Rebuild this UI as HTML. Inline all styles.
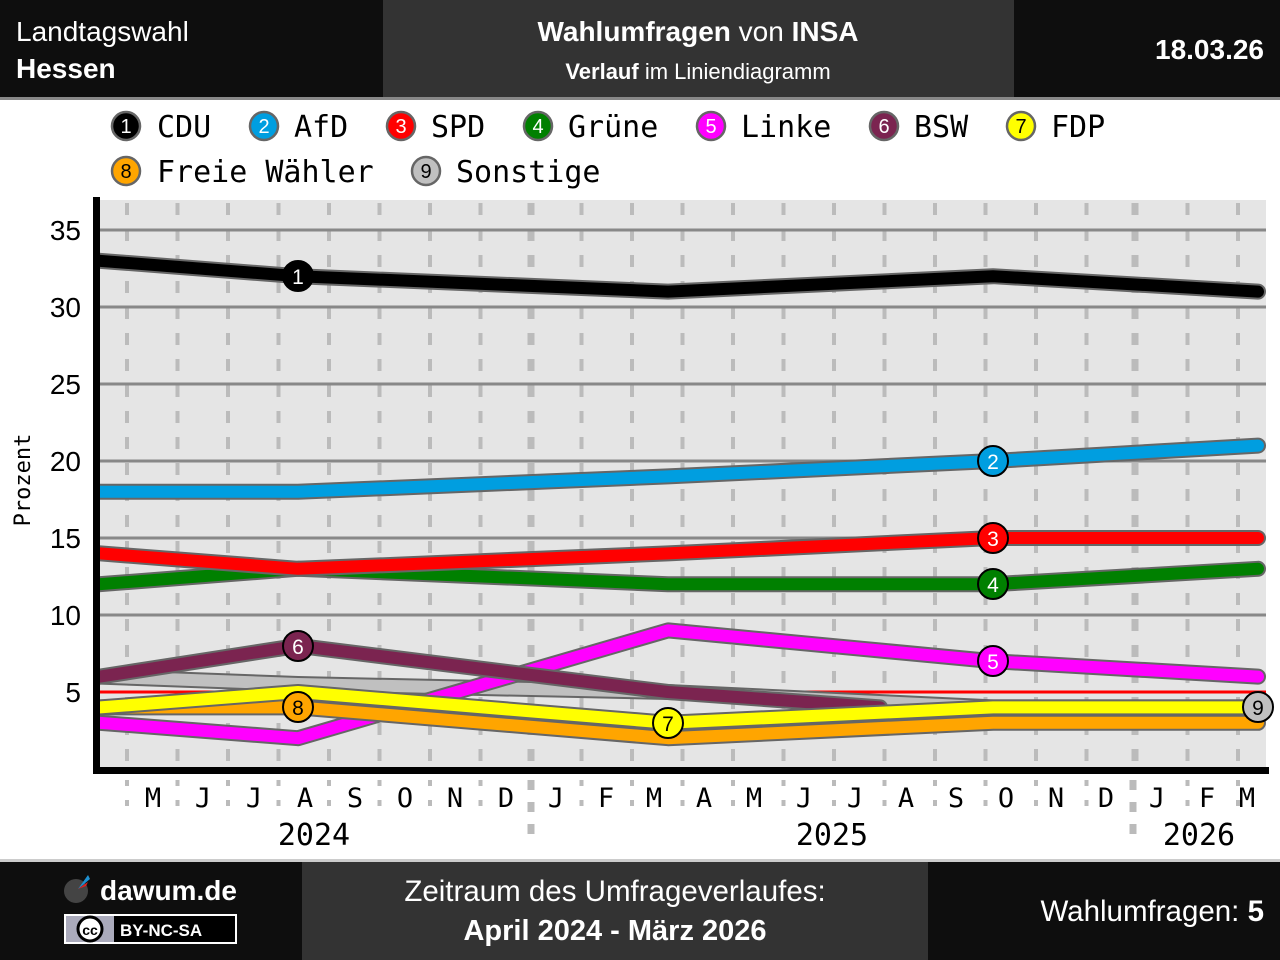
<!DOCTYPE html>
<html><head><meta charset="utf-8"><style>
html,body{margin:0;padding:0;background:#fff}
svg{display:block}
.r{font-family:"Liberation Sans",sans-serif}
.m{font-family:"DejaVu Sans Mono","Liberation Mono",monospace}
</style></head><body>
<svg width="1280" height="960" xmlns="http://www.w3.org/2000/svg">
<defs><clipPath id="c"><rect x="100" y="200" width="1166" height="567"/></clipPath></defs>
<rect x="0" y="0" width="1280" height="97" fill="#0e0e0e"/>
<rect x="383" y="0" width="631" height="97" fill="#333"/>
<rect x="0" y="97" width="1280" height="3" fill="#888"/>
<text class="r" x="16" y="41" font-size="28" fill="#fff">Landtagswahl</text>
<text class="r" x="16" y="78" font-size="28" font-weight="bold" fill="#fff">Hessen</text>
<text class="r" x="698" y="41" font-size="28" fill="#fff" text-anchor="middle"><tspan font-weight="bold">Wahlumfragen</tspan> von <tspan font-weight="bold">INSA</tspan></text>
<text class="r" x="698" y="79" font-size="22" fill="#fff" text-anchor="middle"><tspan font-weight="bold">Verlauf</tspan> im Liniendiagramm</text>
<text class="r" x="1264" y="59" font-size="28" font-weight="bold" fill="#fff" text-anchor="end">18.03.26</text>
<g class="m" font-size="30" fill="#000">
<g stroke="#666" stroke-width="2.5">
<circle cx="126" cy="126" r="14" fill="#000"/><circle cx="264" cy="126" r="14" fill="#009ee0"/><circle cx="401" cy="126" r="14" fill="#f00"/><circle cx="538" cy="126" r="14" fill="#008000"/><circle cx="711" cy="126" r="14" fill="#f0f"/><circle cx="884" cy="126" r="14" fill="#7b2450"/><circle cx="1021" cy="126" r="14" fill="#ff0"/><circle cx="126" cy="171" r="14" fill="#ffa500"/><circle cx="426" cy="171" r="14" fill="#c0c0c0"/>
</g>
<g font-size="20" text-anchor="middle" font-family="Liberation Sans,sans-serif">
<text x="126" y="133" fill="#fff">1</text><text x="264" y="133" fill="#fff">2</text><text x="401" y="133" fill="#fff">3</text><text x="538" y="133" fill="#fff">4</text><text x="711" y="133" fill="#fff">5</text><text x="884" y="133" fill="#fff">6</text><text x="1021" y="133">7</text><text x="126" y="178">8</text><text x="426" y="178">9</text>
</g>
<text x="157" y="137">CDU</text><text x="294" y="137">AfD</text><text x="431" y="137">SPD</text><text x="568" y="137">Grüne</text><text x="741" y="137">Linke</text><text x="914" y="137">BSW</text><text x="1051" y="137">FDP</text>
<text x="157" y="182">Freie Wähler</text><text x="456" y="182">Sonstige</text>
</g>
<rect x="100" y="200" width="1166" height="567" fill="#e5e5e5"/>
<g stroke="#bbb" stroke-width="4" stroke-dasharray="12,14">
<path d="M127 203V767M177.5 203V767M228 203V767M278.5 203V767M329 203V767M379.5 203V767M430 203V767M480.5 203V767M581.5 203V767M632 203V767M682.5 203V767M733 203V767M783.5 203V767M834 203V767M884.5 203V767M935 203V767M985.5 203V767M1036 203V767M1086.5 203V767M1187.5 203V767M1238 203V767"/>
<path d="M531 203V767M1135 203V767" stroke-width="7"/>
</g>
<g stroke="#888" stroke-width="3">
<path d="M100 230H1266M100 307H1266M100 384H1266M100 461H1266M100 538H1266M100 615H1266M100 692H1266"/>
</g>
<path d="M100 692H1266" stroke="#f00" stroke-width="3"/>
<g clip-path="url(#c)" fill="none" stroke-linejoin="round" stroke-linecap="round">
<polyline stroke-width="16" stroke="#666" points="100,676.6 298,684 668,692 993,707.4 1258,707.4"/>
<polyline stroke-width="12" stroke="#c0c0c0" points="100,676.6 298,684 668,692 993,707.4 1258,707.4"/>
<polyline stroke-width="16" stroke="#666" points="100,722.8 298,738.2 668,630.4 993,661.2 1258,676.6"/>
<polyline stroke-width="12" stroke="#f0f" points="100,722.8 298,738.2 668,630.4 993,661.2 1258,676.6"/>
<polyline stroke-width="16" stroke="#666" points="100,676.6 298,645.8 668,692 880,707.4"/>
<polyline stroke-width="12" stroke="#7b2450" points="100,676.6 298,645.8 668,692 880,707.4"/>
<polyline stroke-width="16" stroke="#666" points="100,707.4 298,707.4 668,738.2 993,722.8 1258,722.8"/>
<polyline stroke-width="12" stroke="#ffa500" points="100,707.4 298,707.4 668,738.2 993,722.8 1258,722.8"/>
<polyline stroke-width="16" stroke="#666" points="100,707.4 298,692 668,722.8 993,707.4 1258,707.4"/>
<polyline stroke-width="12" stroke="#ff0" points="100,707.4 298,692 668,722.8 993,707.4 1258,707.4"/>
<polyline stroke-width="16" stroke="#666" points="100,584.2 298,568.8 668,584.2 993,584.2 1258,568.8"/>
<polyline stroke-width="12" stroke="#008000" points="100,584.2 298,568.8 668,584.2 993,584.2 1258,568.8"/>
<polyline stroke-width="16" stroke="#666" points="100,553.4 298,568.8 668,553.4 993,538 1258,538"/>
<polyline stroke-width="12" stroke="#f00" points="100,553.4 298,568.8 668,553.4 993,538 1258,538"/>
<polyline stroke-width="16" stroke="#666" points="100,491.8 298,491.8 668,476.4 993,461 1258,445.6"/>
<polyline stroke-width="12" stroke="#009ee0" points="100,491.8 298,491.8 668,476.4 993,461 1258,445.6"/>
<polyline stroke-width="16" stroke="#666" points="100,260.8 298,276.2 668,291.6 993,276.2 1258,291.6"/>
<polyline stroke-width="12" stroke="#000" points="100,260.8 298,276.2 668,291.6 993,276.2 1258,291.6"/>
</g>
<g stroke="#000" stroke-width="2">
<circle cx="298" cy="276" r="15" fill="#000"/><circle cx="993" cy="461" r="15" fill="#009ee0"/><circle cx="993" cy="538" r="15" fill="#f00"/><circle cx="993" cy="584" r="15" fill="#008000"/><circle cx="993" cy="661" r="15" fill="#f0f"/><circle cx="298" cy="646" r="15" fill="#7b2450"/><circle cx="668" cy="723" r="15" fill="#ff0"/><circle cx="298" cy="707" r="15" fill="#ffa500"/><circle cx="1258" cy="707" r="15" fill="#c0c0c0"/>
</g>
<g class="r" font-size="21" text-anchor="middle">
<text x="298" y="284" fill="#fff">1</text><text x="993" y="469" fill="#fff">2</text><text x="993" y="546" fill="#fff">3</text><text x="993" y="592" fill="#fff">4</text><text x="993" y="669" fill="#fff">5</text><text x="298" y="654" fill="#fff">6</text><text x="668" y="731">7</text><text x="298" y="715">8</text><text x="1258" y="715">9</text>
</g>
<rect x="93" y="197" width="7" height="576" fill="#000"/>
<rect x="93" y="767" width="1176" height="7" fill="#000"/>
<g class="r" font-size="28" text-anchor="end">
<text x="81" y="240">35</text><text x="81" y="317">30</text><text x="81" y="394">25</text><text x="81" y="471">20</text><text x="81" y="548">15</text><text x="81" y="625">10</text><text x="81" y="702">5</text>
</g>
<text class="m" font-size="22" transform="translate(30,480) rotate(-90)" text-anchor="middle">Prozent</text>
<g stroke="#bbb" stroke-width="4" stroke-dasharray="6,14">
<path d="M127 780V810M177.5 780V810M228 780V810M278.5 780V810M329 780V810M379.5 780V810M430 780V810M480.5 780V810M581.5 780V810M632 780V810M682.5 780V810M733 780V810M783.5 780V810M834 780V810M884.5 780V810M935 780V810M985.5 780V810M1036 780V810M1086.5 780V810M1187.5 780V810M1238 780V810"/>
</g>
<g stroke="#bbb" stroke-width="7" stroke-dasharray="10,12"><path d="M531 780V846M1133 780V846"/></g>
<g class="m" font-size="27" text-anchor="middle">
<text x="153" y="807">M</text><text x="203" y="807">J</text><text x="254" y="807">J</text><text x="305" y="807">A</text><text x="355" y="807">S</text><text x="405" y="807">O</text><text x="455" y="807">N</text><text x="506" y="807">D</text><text x="556" y="807">J</text><text x="606" y="807">F</text><text x="654" y="807">M</text><text x="704" y="807">A</text><text x="754" y="807">M</text><text x="804" y="807">J</text><text x="855" y="807">J</text><text x="906" y="807">A</text><text x="956" y="807">S</text><text x="1006" y="807">O</text><text x="1056" y="807">N</text><text x="1106" y="807">D</text><text x="1157" y="807">J</text><text x="1207" y="807">F</text><text x="1247" y="807">M</text>
</g>
<g class="m" font-size="30" text-anchor="middle"><text x="314" y="845">2024</text><text x="832" y="845">2025</text><text x="1199" y="845">2026</text></g>
<rect x="0" y="859" width="1280" height="3" fill="#ccc"/>
<rect x="0" y="862" width="1280" height="98" fill="#0e0e0e"/>
<rect x="302" y="862" width="626" height="98" fill="#333"/>
<circle cx="76" cy="891" r="12" fill="#444"/>
<path d="M78 889L88 875L90 879Z" fill="#1e90d0"/><path d="M78 889L88 882L86 886Z" fill="#e02020"/>
<text class="r" x="100" y="900" font-size="28" font-weight="bold" fill="#fff">dawum.de</text>
<rect x="65" y="915" width="171" height="28" fill="#000" stroke="#fff" stroke-width="2"/>
<rect x="66" y="916" width="48" height="26" fill="#aab"/>
<circle cx="90" cy="929" r="12" fill="#fff" stroke="#000" stroke-width="3"/>
<text class="r" x="90" y="935" font-size="14" font-weight="bold" text-anchor="middle">cc</text>
<text class="r" x="120" y="936" font-size="17" font-weight="bold" fill="#fff">BY-NC-SA</text>
<text class="r" x="615" y="901" font-size="29.5" fill="#fff" text-anchor="middle">Zeitraum des Umfrageverlaufes:</text>
<text class="r" x="615" y="940" font-size="29" font-weight="bold" fill="#fff" text-anchor="middle">April 2024 - März 2026</text>
<text class="r" x="1264" y="921" font-size="29.5" fill="#fff" text-anchor="end">Wahlumfragen: <tspan font-weight="bold">5</tspan></text>
</svg>
</body></html>
